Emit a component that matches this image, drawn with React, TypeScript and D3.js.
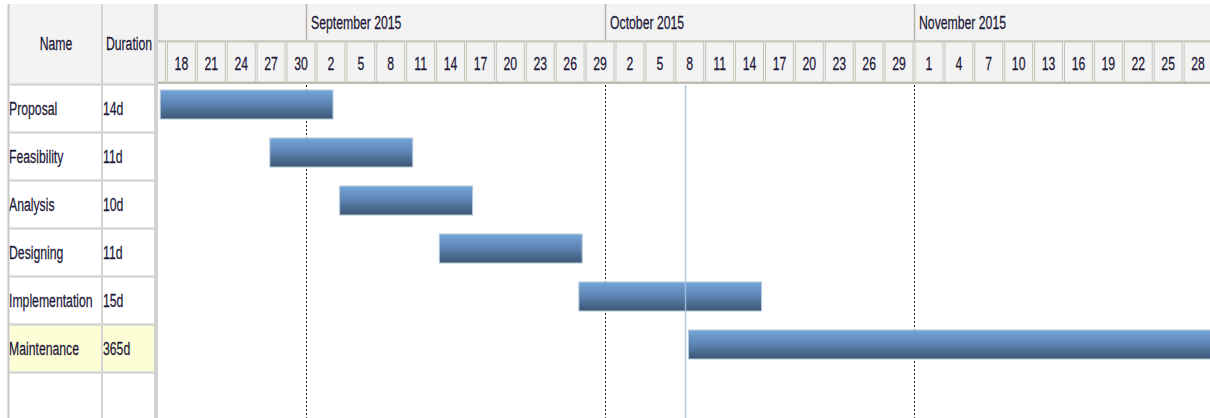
import React from "react";
import * as d3 from "d3";

const taskNames = ["Proposal", "Feasibility", "Analysis", "Designing", "Implementation", "Maintenance"];
const taskDurations = ["14d", "11d", "10d", "11d", "15d", "365d"];
const taskStarts = ["2015-08-17T09:00", "2015-08-28T09:00", "2015-09-04T09:00", "2015-09-14T09:00", "2015-09-28T09:00", "2015-10-09T09:00"];
const taskEnds = ["2015-09-03T17:00", "2015-09-11T17:00", "2015-09-17T17:00", "2015-09-28T17:00", "2015-10-16T17:00", "2017-03-10T17:00"];
const monthLabels = ["September 2015", "October 2015", "November 2015"];
const monthStarts = ["2015-09-01", "2015-10-01", "2015-11-01"];
const todayDate = "2015-10-09";
const dayTickFirst = "2015-08-15";
const dayTickLast = "2015-11-30";
const dayTickStep = 3;

const W = 1210;
const H = 418;
const FONT = "'Liberation Sans', Arial, sans-serif";
const TEXT = "#1d1838";
const NARROW = 0.68;

type TxtProps = { x: number; y: number; anchor?: "start" | "middle" | "end"; children: React.ReactNode };
function Txt({ x, y, anchor = "start", children }: TxtProps) {
  return (
    <g transform={`translate(${x},${y}) scale(${NARROW},1)`}>
      <text x={0} y={0} fontSize={18} fill={TEXT} stroke={TEXT} strokeWidth={0.25} textAnchor={anchor} dominantBaseline="central">
        {children}
      </text>
    </g>
  );
}

const parse = (s: string) => new Date(s + (s.length === 10 ? "T00:00:00Z" : ":00Z"));

export default function App() {
  const headerTop = 4;
  const monthBottom = 41;
  const headerBottom = 84;
  const rowH = 48;
  const rowTop = 85;
  const tableLeft = 8;
  const colSplit = 102;
  const tableRight = 154;
  const chartLeft = 158;

  const x = d3
    .scaleUtc()
    .domain([parse("2015-09-01"), parse("2015-11-01")])
    .range([306, 914]);

  const dayTicks = d3.utcDay.range(parse(dayTickFirst), parse(dayTickLast), dayTickStep);
  const months = monthStarts.map(parse);
  const today = parse(todayDate);

  const y = d3
    .scaleBand<number>()
    .domain(d3.range(taskNames.length + 1))
    .range([rowTop, rowTop + rowH * (taskNames.length + 1)]);

  const monthCells = months.map((m, i) => ({ x0: x(m), label: monthLabels[i] }));

  return (
    <svg
      width={W}
      height={H}
      style={{ position: "absolute", left: 0, top: 0, background: "#fff" }}
      fontFamily={FONT}
    >
      <defs>
        <linearGradient id="barGrad" x1="0" y1="0" x2="0" y2="1">
          <stop offset="0" stopColor="#76a5d8" />
          <stop offset="0.5" stopColor="#5b83b1" />
          <stop offset="1" stopColor="#3c5574" />
        </linearGradient>
        <clipPath id="chartClip">
          <rect x={chartLeft} y={0} width={W - chartLeft} height={H} />
        </clipPath>
      </defs>

      {/* Left table header */}
      <rect x={tableLeft} y={headerTop} width={tableRight - tableLeft} height={headerBottom - headerTop} fill="#f3f3f3" />
      <Txt x={(tableLeft + colSplit) / 2 + 1} y={(headerTop + headerBottom) / 2} anchor="middle">
        Name
      </Txt>
      <Txt x={(colSplit + tableRight) / 2 + 1} y={(headerTop + headerBottom) / 2} anchor="middle">
        Duration
      </Txt>

      {/* Table rows */}
      {taskNames.map((n, i) => {
        const ry = y(i)!;
        const highlight = i === taskNames.length - 1;
        return (
          <g key={n}>
            {highlight && <rect x={tableLeft} y={ry} width={tableRight - tableLeft} height={rowH} fill="#fefed6" />}
            <Txt x={tableLeft + 1} y={ry + rowH / 2}>
              {n}
            </Txt>
            <Txt x={colSplit + 1} y={ry + rowH / 2}>
              {taskDurations[i]}
            </Txt>
          </g>
        );
      })}
      {d3.range(taskNames.length + 1).map((i) => (
        <line key={"rl" + i} x1={tableLeft} x2={tableRight} y1={y(i)! - 0.5} y2={y(i)! - 0.5} stroke="#d6d6d6" strokeWidth={2.5} />
      ))}
      <line x1={tableLeft + 0.5} x2={tableLeft + 0.5} y1={headerTop} y2={H} stroke="#c8c8c8" strokeWidth={2} />
      <line x1={colSplit} x2={colSplit} y1={headerTop} y2={H} stroke="#d4d4d4" strokeWidth={2} />
      <rect x={tableRight} y={headerTop} width={chartLeft - tableRight} height={H - headerTop} fill="#d2d2d2" />

      {/* Timeline header */}
      <rect x={chartLeft} y={headerTop} width={W - chartLeft} height={headerBottom - headerTop} fill="#f3f3f3" />
      <g clipPath="url(#chartClip)">
        {monthCells.map((m) => (
          <g key={m.label}>
            <line x1={Math.round(m.x0) + 0.5} x2={Math.round(m.x0) + 0.5} y1={headerTop} y2={monthBottom} stroke="#b4b2a8" strokeWidth={1.5} />
            <Txt x={m.x0 + 5} y={(headerTop + monthBottom) / 2}>
              {m.label}
            </Txt>
          </g>
        ))}
        <line x1={chartLeft} x2={W} y1={monthBottom} y2={monthBottom} stroke="#c4c2b8" strokeWidth={1.5} />
        {dayTicks.map((d) => {
          const x0 = x(d);
          const x1 = x(d3.utcDay.offset(d, dayTickStep));
          const visible = x0 + (x1 - x0) / 2 > chartLeft + 6;
          return (
            <g key={+d}>
              <rect x={x0 + 1} y={monthBottom + 1} width={x1 - x0 - 2} height={headerBottom - monthBottom - 3} fill="#f3f3f3" stroke="#c8c5ba" strokeWidth={1} />
              {visible && (
                <Txt x={(x0 + x1) / 2} y={(monthBottom + headerBottom) / 2 + 1} anchor="middle">
                  {d3.utcFormat("%-d")(d)}
                </Txt>
              )}
            </g>
          );
        })}
        <line x1={chartLeft} x2={W} y1={headerBottom - 1} y2={headerBottom - 1} stroke="#aeac9e" strokeWidth={1.5} />

        {/* Month dotted lines */}
        {months.map((m) => (
          <line key={"ml" + +m} x1={Math.round(x(m)) + 0.5} x2={Math.round(x(m)) + 0.5} y1={headerBottom + 1} y2={H} stroke="#222" strokeWidth={1} strokeDasharray="2,2" />
        ))}

        {/* Bars */}
        {taskNames.map((n, i) => {
          const x0 = x(parse(taskStarts[i]));
          const x1 = x(parse(taskEnds[i]));
          const by = y(i)! + 5;
          return (
            <rect key={"b" + n} x={x0} y={by} width={x1 - x0} height={29} fill="url(#barGrad)" stroke="#b8cadc" strokeWidth={1} />
          );
        })}

        {/* Today line */}
        <line x1={Math.round(x(today)) + 0.5} x2={Math.round(x(today)) + 0.5} y1={headerBottom + 1} y2={H} stroke="#a3c1e0" strokeWidth={1.5} opacity={0.85} />
      </g>
    </svg>
  );
}
